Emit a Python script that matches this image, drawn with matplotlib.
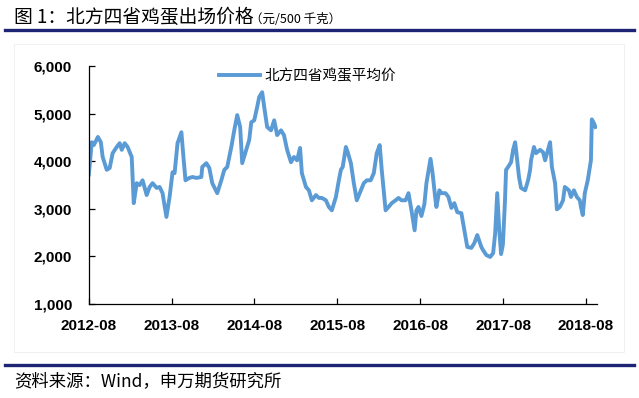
import matplotlib
matplotlib.use("Agg")
import matplotlib.pyplot as plt
import pandas as pd
from matplotlib.lines import Line2D
from matplotlib.patches import Rectangle

plt.rcParams['font.family'] = ['Noto Sans CJK SC', 'DejaVu Sans']

# 北方四省鸡蛋平均价（元/500千克），按图读取的近似值
dates = [
    "2012-08-01", "2012-08-14", "2012-08-23", "2012-09-10", "2012-09-23", "2012-10-01",
    "2012-10-19", "2012-11-01", "2012-11-14", "2012-12-02", "2012-12-15", "2012-12-24",
    "2013-01-06", "2013-01-19", "2013-02-06", "2013-02-15", "2013-02-28", "2013-03-13",
    "2013-03-26", "2013-04-13", "2013-04-26", "2013-05-09", "2013-05-27", "2013-06-09",
    "2013-06-22", "2013-07-09", "2013-07-23", "2013-08-05", "2013-08-14", "2013-08-27",
    "2013-09-13", "2013-09-22", "2013-10-01", "2013-10-18", "2013-11-01", "2013-11-18",
    "2013-12-10", "2013-12-14", "2014-01-01", "2014-01-14", "2014-01-27", "2014-02-18",
    "2014-03-08", "2014-03-21", "2014-04-03", "2014-04-21", "2014-05-04", "2014-05-17",
    "2014-05-30", "2014-06-08", "2014-06-26", "2014-07-09", "2014-07-18", "2014-07-31",
    "2014-08-13", "2014-08-22", "2014-09-04", "2014-09-13", "2014-09-26", "2014-10-13",
    "2014-10-27", "2014-11-09", "2014-11-26", "2014-12-09", "2014-12-23", "2015-01-09",
    "2015-01-22", "2015-02-05", "2015-02-18", "2015-02-26", "2015-03-16", "2015-03-29",
    "2015-04-11", "2015-04-29", "2015-05-12", "2015-05-25", "2015-06-12", "2015-06-25",
    "2015-07-08", "2015-07-26", "2015-08-08", "2015-08-17", "2015-08-25", "2015-09-08",
    "2015-09-16", "2015-09-30", "2015-10-13", "2015-10-26", "2015-11-08", "2015-11-26",
    "2015-12-09", "2015-12-26", "2016-01-09", "2016-01-22", "2016-02-04", "2016-02-13",
    "2016-03-01", "2016-03-14", "2016-03-28", "2016-04-14", "2016-04-27", "2016-05-10",
    "2016-05-28", "2016-06-10", "2016-06-23", "2016-07-07", "2016-07-15", "2016-07-24",
    "2016-08-06", "2016-08-19", "2016-08-28", "2016-09-15", "2016-09-24", "2016-10-07",
    "2016-10-11", "2016-10-24", "2016-11-02", "2016-11-20", "2016-12-03", "2016-12-16",
    "2016-12-29", "2017-01-11", "2017-01-29", "2017-02-11", "2017-02-24", "2017-03-14",
    "2017-03-27", "2017-04-09", "2017-04-27", "2017-05-05", "2017-05-19", "2017-06-05",
    "2017-06-18", "2017-06-27", "2017-07-06", "2017-07-15", "2017-07-23", "2017-07-31",
    "2017-08-09", "2017-08-14", "2017-08-23", "2017-09-05", "2017-09-14", "2017-09-23",
    "2017-09-27", "2017-10-10", "2017-10-19", "2017-11-06", "2017-11-19", "2017-11-28",
    "2017-12-02", "2017-12-15", "2017-12-24", "2018-01-11", "2018-01-24", "2018-02-02",
    "2018-02-15", "2018-02-24", "2018-03-04", "2018-03-18", "2018-03-26", "2018-04-08",
    "2018-04-22", "2018-04-30", "2018-05-18", "2018-05-27", "2018-06-09", "2018-06-22",
    "2018-07-05", "2018-07-10", "2018-07-18", "2018-07-27", "2018-08-09", "2018-08-23",
    "2018-08-27", "2018-09-05", "2018-09-12",
]
prices = [
    3720, 4400, 4340, 4510, 4400, 4090,
    3820, 3860, 4170, 4300, 4380, 4240,
    4380, 4300, 4090, 3120, 3540, 3500,
    3600, 3290, 3460, 3540, 3440, 3460,
    3330, 2830, 3250, 3770, 3750, 4380,
    4610, 4090, 3600, 3650, 3670, 3650,
    3670, 3880, 3960, 3860, 3540, 3330,
    3600, 3820, 3880, 4300, 4650, 4970,
    4720, 3960, 4240, 4450, 4820, 4860,
    5140, 5350, 5450, 5140, 4720, 4650,
    4860, 4550, 4650, 4550, 4240, 3980,
    4090, 4020, 4280, 3750, 3460, 3390,
    3180, 3290, 3230, 3230, 3180, 3040,
    2970, 3250, 3600, 3820, 3880, 4300,
    4190, 3960, 3540, 3180, 3330, 3540,
    3600, 3600, 3750, 4170, 4340, 3820,
    2970, 3040, 3120, 3180, 3230, 3180,
    3180, 3330, 2970, 2550, 2970, 3040,
    2850, 3100, 3540, 4050, 3750, 3180,
    3040, 3390, 3330, 3330, 3250, 3020,
    3120, 2930, 2910, 2550, 2200, 2180,
    2280, 2450, 2200, 2130, 2030, 1990,
    2070, 2490, 3330, 2550, 2050, 2250,
    3150, 3820, 3880, 3980, 4240, 4400,
    4240, 3670, 3440, 3390, 3600, 3820,
    4020, 4300, 4170, 4240, 4190, 4020,
    4240, 4400, 3880, 3540, 2990, 3040,
    3180, 3460, 3390, 3250, 3390, 3250,
    3180, 3040, 2870, 3330, 3600, 4020,
    4880, 4800, 4720,
]
series_name = "北方四省鸡蛋平均价"
tick_labels = ["2012-08", "2013-08", "2014-08", "2015-08", "2016-08", "2017-08", "2018-08"]

df = pd.DataFrame({"date": pd.to_datetime(dates), "price": prices})

fig = plt.figure(figsize=(6.39, 3.98), dpi=100)
ax = fig.add_axes([0.139, 0.236, 0.795, 0.598])

ax.plot(df["date"], df["price"], color="#5b9bd5", linewidth=2.8, label=series_name)

ax.set_ylim(1000, 6000)
ax.set_yticks([1000, 2000, 3000, 4000, 5000, 6000])
ax.yaxis.set_major_formatter(matplotlib.ticker.FuncFormatter(lambda v, p: f"{int(v):,}"))
ax.set_xlim(pd.Timestamp("2012-08-01"), pd.Timestamp("2018-09-18"))
ax.set_xticks(pd.to_datetime([t + "-01" for t in tick_labels]))
ax.set_xticklabels(tick_labels)

for s in ["top", "right"]:
    ax.spines[s].set_visible(False)
for s in ["left", "bottom"]:
    ax.spines[s].set_color("black")
    ax.spines[s].set_linewidth(0.9)
ax.tick_params(direction="in", length=4, width=0.9, colors="black")
ax.tick_params(axis="x", pad=11)
ax.tick_params(axis="y", pad=12)
for lab in ax.get_xticklabels() + ax.get_yticklabels():
    lab.set_family("Liberation Sans")
    lab.set_fontweight("bold")
    lab.set_fontsize(11)

ax.legend(loc="upper left", bbox_to_anchor=(0.23, 1.045), frameon=False,
          handlelength=2.8, handletextpad=0.3, prop={"size": 10.5})

# 标题、来源与分隔线
fig.text(0.022, 0.957, "图 1：北方四省鸡蛋出场价格", fontsize=13.5, va="center", ha="left")
fig.text(0.392, 0.952, "（元/500 千克）", fontsize=9, va="center", ha="left")
fig.text(0.022, 0.042, "资料来源：Wind，申万期货研究所", fontsize=12.5, va="center", ha="left")
fig.add_artist(Line2D([0.008, 0.992], [0.924, 0.924], color="#1c2473", linewidth=2.4))
fig.add_artist(Line2D([0.008, 0.992], [0.083, 0.083], color="#1c2473", linewidth=2.4))
fig.add_artist(Rectangle((0.022, 0.115), 0.955, 0.775, fill=False, edgecolor="#eeeeee", linewidth=0.6))

fig.savefig("out.png", dpi=100)
